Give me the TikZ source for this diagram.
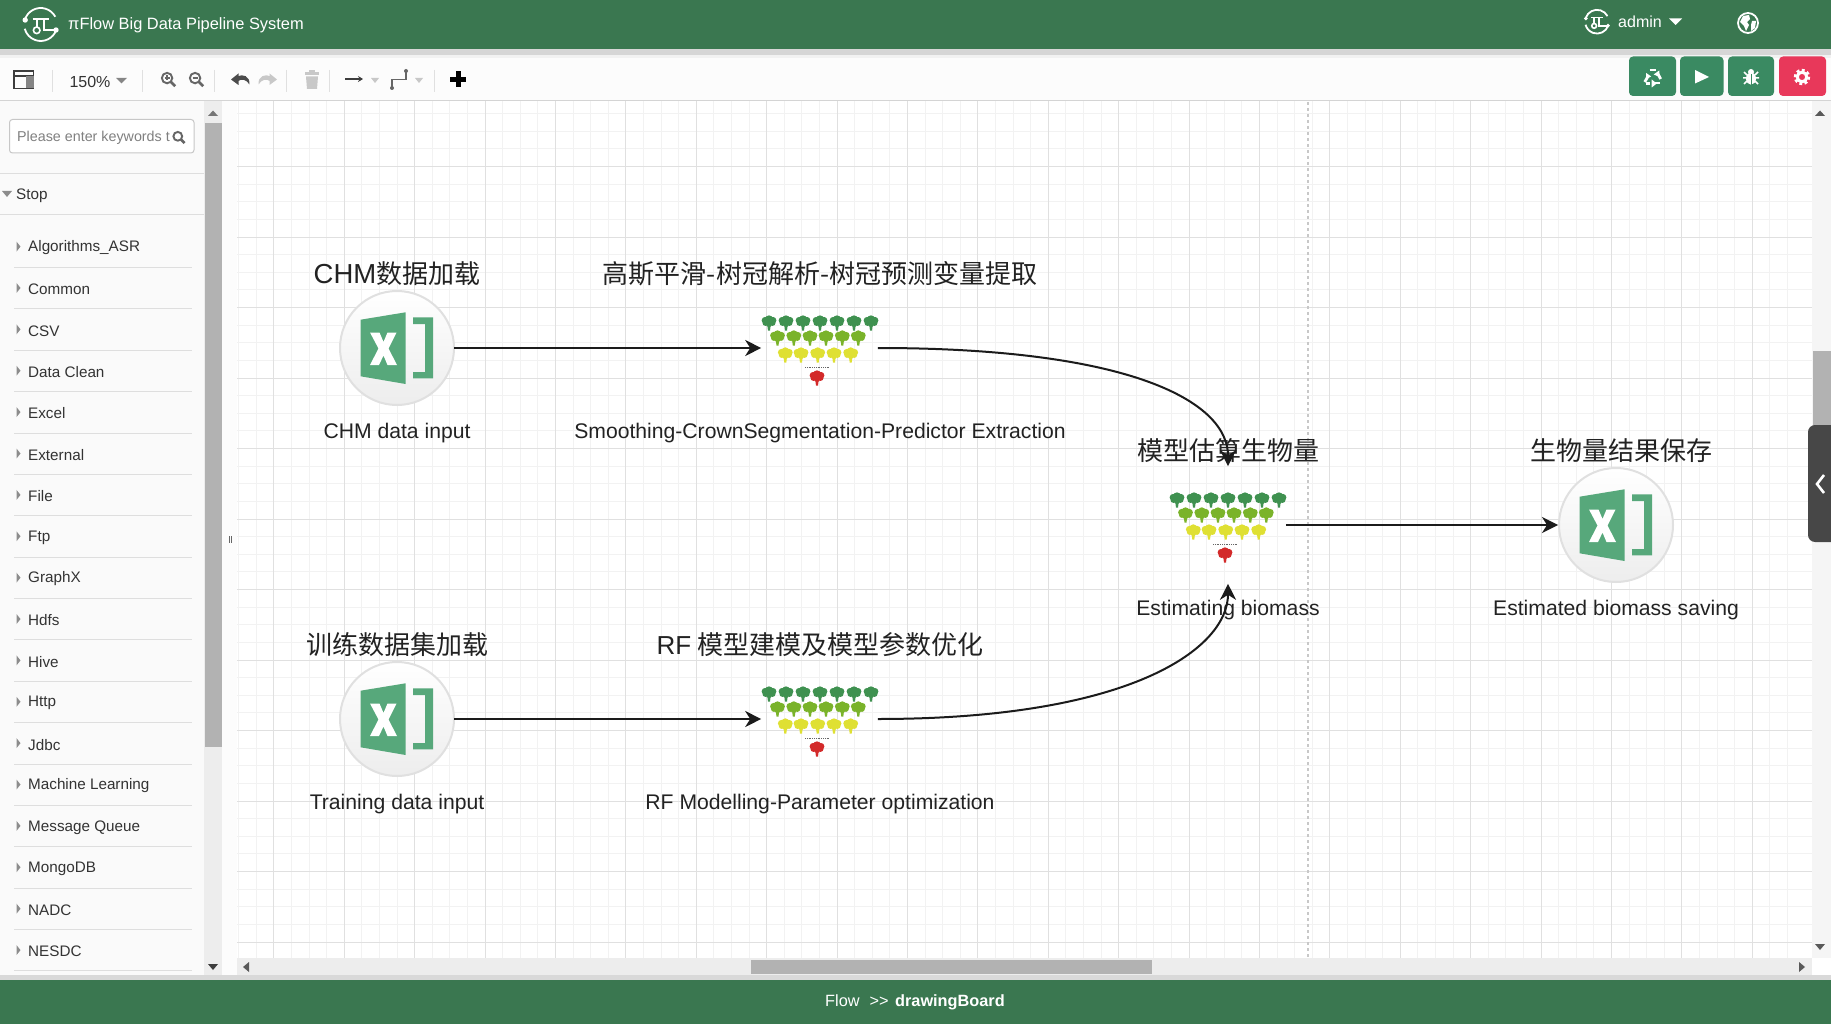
\documentclass[tikz,border=0pt]{standalone}
\usepackage{fontspec}
\setmainfont{Liberation Sans}
\newfontfamily\cjk{Noto Sans CJK SC}
\usetikzlibrary{arrows.meta,calc}
\definecolor{hdr}{HTML}{3A7750}
\definecolor{btn}{HTML}{3A8A62}
\definecolor{btnred}{HTML}{E8385A}
\definecolor{xl}{HTML}{57A87B}
\definecolor{minorg}{HTML}{F2F2F2}
\definecolor{majorg}{HTML}{E0E0E0}
\definecolor{tdark}{HTML}{3F9150}
\definecolor{tmid}{HTML}{7AB32A}
\definecolor{tyel}{HTML}{DFE033}
\definecolor{tred}{HTML}{D32A2A}
\definecolor{ink}{HTML}{222222}
\definecolor{side}{HTML}{333333}
\definecolor{icon}{HTML}{666666}
\definecolor{icon2}{HTML}{C8C8C8}
\newcommand{\glyphat}[3]{%
  \fill[#3,shift={(#1,#2)}] (0,-3.8) circle[radius=3.9] (-3.9,-2.6) circle[radius=3.5] (3.9,-2.6) circle[radius=3.5]
    (-3.6,0) circle[radius=2.9] (3.6,0) circle[radius=2.9] (0,0.8) circle[radius=3.2]
    (-1.6,3)--(1.6,3)--(1,7.5)--(-1,7.5)--cycle;}
\tikzset{
  excelnode/.style={circle,minimum size=114pt,inner sep=0pt,outer sep=0pt,draw=majorg,line width=2pt,top color=white,bottom color=white!93!black},
  treenode/.style={rectangle,minimum size=115.6pt,inner sep=0pt,outer sep=0pt},
  toplabel/.style={font=\fontsize{26}{30}\selectfont,text=ink,inner sep=0pt},
  botlabel/.style={font=\fontsize{21.15}{26}\selectfont,text=ink,inner sep=0pt},
  sideitem/.style={font=\fontsize{15.25}{18}\selectfont,text=side,anchor=west,inner sep=0pt},
  link/.style={draw=ink!80!black,line width=2pt,shorten >=1pt,-{Stealth[length=16pt,width=16pt,inset=5pt]}},
  btnbox/.style={fill=#1,rounded corners=4pt,draw=none},
  sep/.style={draw=majorg,line width=1pt},
  excelicon/.pic={
    \fill[xl] (-36.4,-28.3)--(8.6,-35.7)--(8.6,36)--(-36.4,28.3)--cycle;
    \fill[xl] (16,-30.7)--(36,-30.7)--(36,30.3)--(16,30.3)--(16,24)--(28,24)--(28,-24)--(16,-24)--cycle;
    \fill[white] (-27,-15.5)--(-17.5,-15.5)--(-13.5,-6)--(-9.5,-15.5)--(-0.5,-15.5)--(-8.5,0.5)--(0,17)--(-9.5,17)--(-13.5,7.5)--(-18,17)--(-27,17)--(-18.5,0.5)--cycle;
  },
  treefan/.pic={
    \foreach \x in {-51,-34,-17,0,17,34,51}{\glyphat{\x}{-25}{tdark}}
    \foreach \x in {-42.5,-26.2,-10,6,22.3,38.3}{\glyphat{\x}{-10}{tmid}}
    \foreach \x in {-34.7,-19,-2.3,14,30.7}{\glyphat{\x}{7}{tyel}}
    \draw[icon,line width=.8pt,densely dotted] (-15,19)--(10,19);
    \glyphat{-3}{30}{tred}
  },
  pilogo/.pic={
    \draw[white,line width=1.8pt] (0,0)+(197:16.5) arc[start angle=197,end angle=332,radius=16.5];
    \draw[white,line width=1.8pt] (0,0)+(20:16.5) arc[start angle=20,end angle=165,radius=16.5];
    \draw[white,line width=1.8pt] (-8,-5.8)--(8.3,-5.8) (-4,-5.8)--(-4,2.5) (3.3,-5.8)--(3.3,5.5)--(15,5.5);
    \draw[white,line width=1.6pt] (-4,5.8) circle[radius=3.3];
    \fill[white] (-15.5,-4.5) circle[radius=2.7] (15.3,5.5) circle[radius=2.7];
  },
  lens/.pic={
    \draw[icon,line width=1.9pt] (-1.5,-1.5) circle[radius=5.5];
    \draw[icon,line width=2.6pt] (2.5,2.5)--(7,7);
  }
}
\begin{document}
\begin{tikzpicture}[x=1pt,y=-1pt]
\useasboundingbox (0,0) rectangle (1831,1024);
\fill[white] (0,0) rectangle (1831,1024);
% canvas grid
\begin{scope}
\clip (237,102) rectangle (1812,958);
\foreach \k in {0,...,90}{\draw[minorg,line width=.9pt] ({203.5+17.6*\k},96)--({203.5+17.6*\k},958);}
\foreach \k in {0,...,50}{\draw[minorg,line width=.9pt] (237,{96+17.625*\k})--(1812,{96+17.625*\k});}
\foreach \k in {0,...,23}{\draw[majorg,line width=.9pt] ({203.5+70.4*\k},96)--({203.5+70.4*\k},958);}
\foreach \k in {0,...,13}{\draw[majorg,line width=.9pt] (237,{96+70.5*\k})--(1812,{96+70.5*\k});}
\draw[icon2,line width=1.2pt,dashed] (1308,102)--(1308,958);
\end{scope}
% header
\fill[hdr] (0,0) rectangle (1831,49.5);
\fill[black!16] (0,49.5) rectangle (1831,55);
\fill[black!5] (0,55) rectangle (1831,58);
\fill[white!99!black] (0,58) rectangle (1831,100.5);
\draw[black!17,line width=1pt] (0,100.5)--(1831,100.5);
\pic at (40.7,24.5) {pilogo};
\node[anchor=west,text=white,font=\fontsize{16.4}{20}\selectfont,inner sep=0pt] (title) at (68,25) {πFlow Big Data Pipeline System};
\pic[scale=.72] at (1597,21.7) {pilogo};
\node[anchor=west,text=white,font=\fontsize{16}{20}\selectfont,inner sep=0pt] (admin) at (1618,22) {admin};
\fill[white] (1669,18.5)--(1682,18.5)--(1675.5,25)--cycle;
\begin{scope}[shift={(1748,23)}]
\draw[white,line width=1.8pt] (0,0) circle[radius=10];
\fill[white] (-5,-7)--(1,-8)--(2,-4)--(-1,-1)--(1,2)--(-2,8)--(-4,3)--(-8,-1)--cycle;
\fill[white] (4,-2)--(8,-2)--(7,5)--(3,8)--(3,2)--cycle;
\end{scope}
% toolbar
\foreach \sx in {52,142,214,286,329,434}{\draw[sep] (\sx,70)--(\sx,92);}
\draw[icon!60!black,line width=1.6pt] (14,71) rectangle (33.5,88.5);
\draw[icon!60!black,line width=1.6pt] (14,76)--(33.5,76);
\fill[icon!80] (26,76) rectangle (33.5,88.5);
\node[font=\fontsize{16}{20}\selectfont,text=side,inner sep=0pt] (zoomval) at (90,82) {150\%};
\fill[icon!80] (116,78)--(127,78)--(121.5,83.5)--cycle;
\pic[scale=.95] at (168.5,79.5) {lens};
\draw[icon,line width=1.3pt] (164.5,78)--(169.5,78) (167,75.5)--(167,80.5);
\pic[scale=.95] at (196.5,79.5) {lens};
\draw[icon,line width=1.3pt] (192.5,78)--(197.5,78);
% undo / redo
\fill[icon!75!black] (231,79.5)--(238.5,73.5)--(238.5,85)--cycle;
\fill[icon!75!black] (237,76.5) .. controls (243,73.5) and (250,76) .. (249.5,84.5) .. controls (246,79) and (242,78.5) .. (237,81.5)--cycle;
\fill[icon2] (277,79.5)--(269.5,73.5)--(269.5,85)--cycle;
\fill[icon2] (271,76.5) .. controls (265,73.5) and (258,76) .. (258.5,84.5) .. controls (262,79) and (266,78.5) .. (271,81.5)--cycle;
% trash
\fill[icon2] (305,72.5) rectangle (319,75);
\fill[icon2] (309,70.5) rectangle (315,73);
\fill[icon2] (306,76.5)--(318,76.5)--(317,89)--(307,89)--cycle;
\draw[icon!60!black,line width=1.5pt,-{Stealth[length=5pt,width=6pt]}] (345,79)--(363,79);
\fill[icon2] (371,78)--(379,78)--(375,83)--cycle;
\draw[icon,line width=1.5pt] (392,88)--(392,79.5)--(406,79.5)--(406,71);
\fill[icon] (392,88) circle[radius=2] (406,71) circle[radius=2];
\fill[icon2] (415,78)--(423,78)--(419,83)--cycle;
\fill[black] (455.5,71.5) rectangle (460.5,87.5);
\fill[black] (450,77) rectangle (466,82);
% buttons
\fill[btnbox=btn] (1629,56.5) rectangle (1676,96);
\fill[btnbox=btn] (1680,56.5) rectangle (1723.5,96);
\fill[btnbox=btn] (1728,56.5) rectangle (1774,96);
\fill[btnbox=btnred] (1779,56.5) rectangle (1826,96);
\begin{scope}[shift={(1652.7,77)}]
\draw[white,line width=2.8pt,line join=round] (-8,5)--(-4.5,-1);
\draw[white,line width=2.8pt,line join=round] (-3,-7)--(3,-7);
\draw[white,line width=2.8pt,line join=round] (5,-3.5)--(8,2);
\draw[white,line width=2.8pt,line join=round] (7.5,6)--(2,6);
\draw[white,line width=2.8pt,line join=round] (-7,6.5)--(-3,6.5);
\fill[white] (-6.5,-4)--(-1.5,-0.5)--(-6.5,2)--cycle;
\fill[white] (6.5,-6.5)--(1,-2.5)--(7,0)--cycle;
\fill[white] (-1,2.5)--(4,6.5)--(-1,10.5)--cycle;
\end{scope}
\fill[white] (1695,70)--(1709,77)--(1695,83.5)--cycle;
\begin{scope}[shift={(1751,77)}]
\draw[white,line width=1.5pt] (-7,-5)--(-4,-2) (7,-5)--(4,-2) (-8,1)--(-4,1) (8,1)--(4,1) (-7,7)--(-4,4) (7,7)--(4,4);
\fill[white] (0,1.5) ellipse[x radius=5,y radius=6.2];
\fill[white] (0,-5) circle[radius=3];
\draw[btn,line width=1pt] (0,-3)--(0,8);
\end{scope}
\begin{scope}[shift={(1802,77)}]
\draw[white,line width=2.8pt,dash pattern=on 2.7pt off 2.6pt] (0,0) circle[radius=6.8];
\draw[white,line width=3pt] (0,0) circle[radius=4.8];
\end{scope}
% side panel
\fill[black!2] (0,101) rectangle (204,958);
\fill[black!2] (0,958) rectangle (204,975);
\fill[black!7] (204,101) rectangle (222,975);
\fill[black!1] (222,101) rectangle (237,975);
\fill[black!30] (204.5,123) rectangle (222,747);
\fill[icon!90] (208,116)--(218,116)--(213,110.5)--cycle;
\fill[icon!60!black] (208,964)--(218,964)--(213,970)--cycle;
\draw[icon,line width=.7pt] (229,536)--(229,543) (231.5,536)--(231.5,543);
\draw[black!22,fill=white,rounded corners=3pt,line width=1pt] (9.5,119.5) rectangle (194,153);
\node[anchor=west,font=\fontsize{14.3}{18}\selectfont,text=black!50,inner sep=0pt] (search) at (17,137.5) {Please enter keywords t};
\fill[white] (170,122) rectangle (192,150);
\pic[scale=.8] at (179,137.5) {lens};
\draw[black!13,line width=1pt] (0,174)--(204,174) (0,215)--(204,215);
\fill[black!45] (2,191)--(12,191)--(7,197)--cycle;
\node[sideitem] (stop) at (16,195.5) {Stop};
\foreach \t [count=\i from 0] in {Algorithms\_ASR,Common,CSV,Data Clean,Excel,External,File,Ftp,GraphX,Hdfs,Hive,Http,Jdbc,Machine Learning,Message Queue,MongoDB,NADC,NESDC}{
  \node[sideitem] (s\i) at (28,{248+41.38*\i}) {\t};
  \fill[black!45] (16.5,{241.6+41.38*\i})--(20.5,{246.6+41.38*\i})--(16.5,{251.6+41.38*\i})--cycle;
  \draw[black!13,line width=1pt] (14,{267.5+41.38*\i})--(191.5,{267.5+41.38*\i});
}
% scrollbars
\fill[black!7] (237,958) rectangle (1812,975);
\fill[black!30] (751,960) rectangle (1152,974);
\fill[black!65] (243,967)--(249,962)--(249,972)--cycle;
\fill[black!65] (1805,967)--(1799,962)--(1799,972)--cycle;
\fill[black!4] (1812,101) rectangle (1831,958);
\fill[black!30] (1813,351) rectangle (1831,430);
\fill[black!65] (1815,116)--(1825,116)--(1820,110.5)--cycle;
\fill[black!65] (1815,944)--(1825,944)--(1820,950)--cycle;
\fill[black!15] (0,975) rectangle (1831,980);
\fill[hdr] (0,980) rectangle (1831,1024);
\node[anchor=west,text=white,font=\fontsize{16.3}{20}\selectfont,inner sep=0pt] (crumb) at (825,1002) {Flow\hspace{10pt}>{}>\hspace{6.5pt}\textbf{drawingBoard}};
\fill[icon!70!black,rounded corners=7pt] (1808,425) rectangle (1845,542);
\draw[white,line width=2.6pt] (1824,475)--(1817,484)--(1824,493);
% nodes
\node[excelnode] (e1) at (397,348) {};
\pic at (397,348) {excelicon};
\node[excelnode] (e2) at (397,719) {};
\pic at (397,719) {excelicon};
\node[excelnode] (e3) at (1616,525) {};
\pic at (1616,525) {excelicon};
\node[treenode] (t1) at (820,348) {};
\pic at (820,348) {treefan};
\node[treenode] (t2) at (820,719) {};
\pic at (820,719) {treefan};
\node[treenode] (t3) at (1228,525) {};
\pic at (1228,525) {treefan};
% labels
\node[toplabel] (l1) at (397,274) {{\fontsize{27.5}{30}\selectfont CHM}\cjk 数据加载};
\node[toplabel] (l2) at (820,274) {\cjk 高斯平滑-树冠解析-树冠预测变量提取};
\node[toplabel] (l3) at (397,645) {\cjk 训练数据集加载};
\node[toplabel] (l4) at (820,645) {RF\hspace{6pt}\cjk 模型建模及模型参数优化};
\node[toplabel] (l5) at (1228,451) {\cjk 模型估算生物量};
\node[toplabel] (l6) at (1621,451) {\cjk 生物量结果保存};
\node[botlabel] (b1) at (397,433) {CHM data input};
\node[botlabel] (b2) at (820,433) {Smoothing-CrownSegmentation-Predictor Extraction};
\node[botlabel] (b3) at (397,804) {Training data input};
\node[botlabel] (b4) at (820,804) {RF Modelling-Parameter optimization};
\node[botlabel] (b5) at (1228,610) {Estimating biomass};
\node[botlabel] (b6) at (1616,610) {Estimated biomass saving};
% connectors
\draw[link] (e1) -- (t1);
\draw[link] (e2) -- (t2);
\draw[link] (t3) -- (e3);
\draw[link] (t1.east) .. controls +(255,0) and +(0,-65) .. (t3.north);
\draw[link] (t2.east) .. controls +(255,0) and +(0,65) .. (t3.south);
\end{tikzpicture}
\end{document}
